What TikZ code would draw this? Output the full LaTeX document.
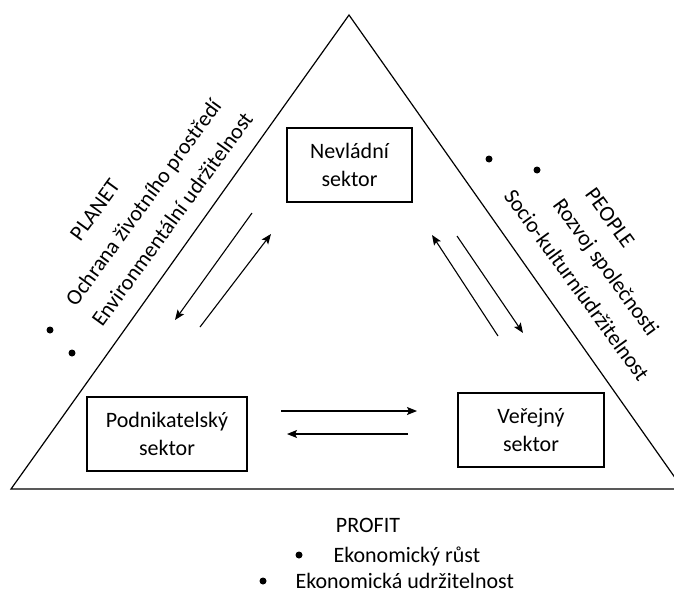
\documentclass[tikz,border=0pt]{standalone}
\usepackage{fontspec}
\setmainfont{Carlito}
\usetikzlibrary{arrows.meta}

\begin{document}
\begin{tikzpicture}
            [x=1pt, y=-1pt, ->, >={Stealth[length=10pt,width=8pt,inset=2pt]}, line width=1.1pt,
             sektor/.style={draw, -, line width=1.3pt, minimum width=#1, minimum height=74pt,
                            align=center, font=\fontsize{22}{28}\selectfont},
             popis/.style={inner sep=0pt, font=\fontsize{22}{26}\selectfont},
             bod/.style={circle, fill, inner sep=0pt, minimum size=7pt}]
            \useasboundingbox (0,0) rectangle (674,597);

            \coordinate (apex) at (349,15);
            \coordinate (lc) at (11,489);
            \coordinate (rc) at (683,489);
            \draw [-, line width=1.2pt] (lc) -- (apex) -- (rc) -- cycle;

            \node[sektor=125pt] (nevladni) at (349.5,165) {Nevládní\\sektor};
            \node[sektor=160pt] (podnik) at (167,434) {Podnikatelský\\sektor};
            \node[sektor=146pt] (verejny) at (531,430) {Veřejný\\sektor};

            % sipky mezi sektory
            \coordinate (np1start) at (252,213);  \coordinate (np1) at (175,320);
            \coordinate (pn1start) at (200,327);  \coordinate (pn1) at (271,234);
            \coordinate (vn1start) at (498,336);  \coordinate (vn1) at (432,235);
            \coordinate (nv1start) at (457,236);  \coordinate (nv1) at (523,333);
            \coordinate (pv1start) at (281,411);  \coordinate (pv1) at (417,411);
            \coordinate (vp1start) at (408,434);  \coordinate (vp1) at (287,434);

            \path [->] (np1start) edge (np1);
            \path [->] (pn1start) edge (pn1);
            \path [->] (vn1start) edge (vn1);
            \path [->] (nv1start) edge (nv1);
            \path [->] (pv1start) edge (pv1);
            \path [->] (vp1start) edge (vp1);

            % planet
            \node[popis, rotate=54] (planet) at (95,210) {PLANET};
            \node[popis, rotate=54] (ochrana) at (144.5,203.5) {Ochrana životního prostředí};
            \node[popis, rotate=54] (envir) at (172,219) {Environmentální udržitelnost};
            \node[bod] (planetb1) at (50,330) {};
            \node[bod] (planetb2) at (72,353) {};

            % people
            \node[popis, rotate=-54] (people) at (610,218) {PEOPLE};
            \node[popis, rotate=-54] (rozvoj) at (605,268) {Rozvoj společnosti};
            \node[popis, rotate=-54] (socio) at (577,285) {Socio-kulturníudržitelnost};
            \node[bod] (peopleb1) at (489,159) {};
            \node[bod] (peopleb2) at (537,170) {};

            % profit
            \node[popis, anchor=base] (profit) at (368,532) {PROFIT};
            \node[popis, anchor=base west] (rust) at (333,562) {Ekonomický růst};
            \node[popis, anchor=base west] (ekudrz) at (295,588) {Ekonomická udržitelnost};
            \node[bod] (profitb1) at (299,555) {};
            \node[bod] (profitb2) at (263,581) {};
        \end{tikzpicture}
\end{document}
